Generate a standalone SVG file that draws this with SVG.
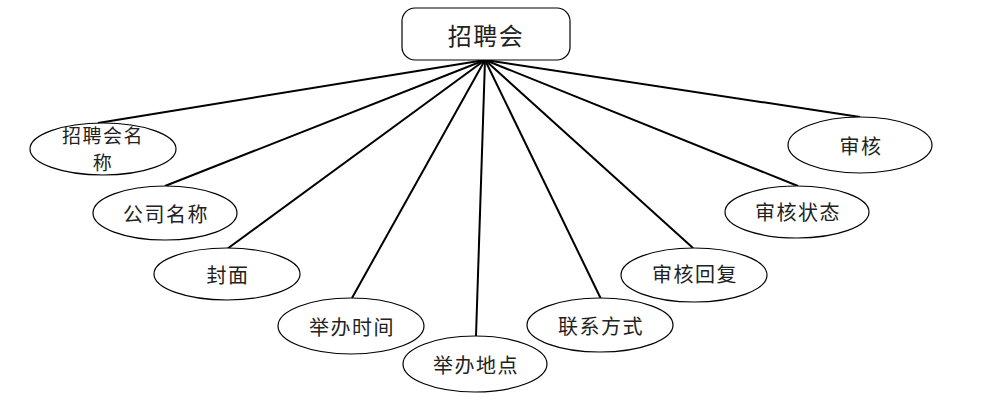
<svg xmlns="http://www.w3.org/2000/svg" width="986" height="408" viewBox="0 0 986 408">
<style>
.n{fill:#fff;stroke:#000;stroke-width:1.2}
.t{font-family:"Noto Sans CJK SC","Noto Sans",sans-serif;font-size:20px;fill:#222;text-anchor:middle;dominant-baseline:central;letter-spacing:1.5px}
.c line{stroke:#000;stroke-width:2}
</style>
<rect width="986" height="408" fill="#fff"/>
<g class="c" id="connectors">
<line x1="485" y1="60" x2="98" y2="123"/>
<line x1="485" y1="60" x2="165" y2="186"/>
<line x1="485" y1="60" x2="227" y2="249"/>
<line x1="485" y1="60" x2="352" y2="298"/>
<line x1="485" y1="60" x2="476" y2="336"/>
<line x1="485" y1="60" x2="601" y2="299"/>
<line x1="485" y1="60" x2="693" y2="248"/>
<line x1="485" y1="60" x2="798" y2="186"/>
<line x1="485" y1="60" x2="860" y2="117"/>
</g>
<g id="root"><rect class="n" x="402" y="8" width="168" height="52" rx="13"/><text class="t" x="486" y="34" style="font-size:24px">招聘会</text></g>
<g id="a1"><ellipse class="n" cx="103" cy="149" rx="73" ry="26"/><text class="t" x="103" y="134" style="font-size:19px">招聘会名</text><text class="t" x="103" y="161" style="font-size:19px">称</text></g>
<g id="a2"><ellipse class="n" cx="165" cy="213" rx="72" ry="27"/><text class="t" x="166" y="213">公司名称</text></g>
<g id="a3"><ellipse class="n" cx="227" cy="274" rx="73" ry="26"/><text class="t" x="228" y="274">封面</text></g>
<g id="a4"><ellipse class="n" cx="351" cy="326" rx="73" ry="28"/><text class="t" x="352" y="326">举办时间</text></g>
<g id="a5"><ellipse class="n" cx="475" cy="364" rx="72" ry="28"/><text class="t" x="476" y="364">举办地点</text></g>
<g id="a6"><ellipse class="n" cx="600" cy="325" rx="73" ry="27"/><text class="t" x="601" y="325">联系方式</text></g>
<g id="a7"><ellipse class="n" cx="694" cy="275" rx="73" ry="27"/><text class="t" x="695" y="273">审核回复</text></g>
<g id="a8"><ellipse class="n" cx="797" cy="212" rx="72" ry="26"/><text class="t" x="798" y="211">审核状态</text></g>
<g id="a9"><ellipse class="n" cx="860" cy="145" rx="72" ry="28"/><text class="t" x="861" y="145">审核</text></g>
</svg>
